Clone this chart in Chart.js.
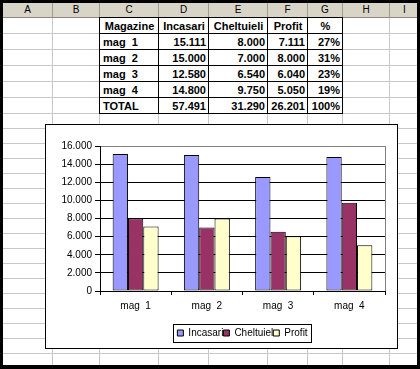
<!DOCTYPE html>
<html>
<head>
<meta charset="utf-8">
<script src="https://cdn.jsdelivr.net/npm/chart.js@4/dist/chart.umd.min.js"></script>
<style>
body { margin: 0; width: 420px; height: 369px; background: #000; overflow: hidden; position: relative; font-family: Arial, "Liberation Sans", sans-serif; }
#sheet { position: absolute; left: 3px; top: 3px; width: 414px; height: 362px; background: #fff; overflow: hidden; }
.c { position: absolute; box-sizing: border-box; border-right: 1px solid #c8c8c8; border-bottom: 1px solid #c8c8c8; }
.h { background: #d8d4c8; border-right: 1px solid #a09c90; border-bottom: 1px solid #8c8880; font-size: 10px; line-height: 13px; text-align: center; color: #000; }
.t { position: absolute; box-sizing: border-box; border: 1px solid #000; font-weight: bold; font-size: 11px; line-height: 15px; padding: 1px 2px 0 3px; white-space: pre; overflow: hidden; color: #000; }
#box { position: absolute; left: 45px; top: 124px; width: 353px; height: 225px; box-sizing: border-box; border: 1px solid #000; background: #fff; }
#box canvas { position: absolute; left: 0; top: 0; }
</style>
</head>
<body>
<div id="sheet"></div>
<div id="box"><canvas id="chart" width="351" height="223"></canvas></div>
<script>
// Data
const categories = ['mag  1', 'mag  2', 'mag  3', 'mag  4'];
const incasari = [15111, 15000, 12580, 14800];
const cheltuieli = [8000, 7000, 6540, 9750];
const profit = [7111, 8000, 6040, 5050];
const procent = ['27%', '31%', '23%', '19%'];
const headers = ['Magazine', 'Incasari', 'Cheltuieli', 'Profit', '%'];
const columns = ['A', 'B', 'C', 'D', 'E', 'F', 'G', 'H', 'I'];

function fmt(n) {
    return String(n).replace(/\B(?=(\d{3})+(?!\d))/g, '.');
}
const sum = a => a.reduce((s, v) => s + v, 0);

// Sheet grid (page coords, sheet starts at 3,3)
const xs = [3, 53, 100, 159, 209, 268, 308, 343, 390, 420];
const ys = [3, 18, 34, 50, 66, 82, 98, 114];
while (ys[ys.length - 1] < 369) ys.push(ys[ys.length - 1] + 15);

const sheet = document.getElementById('sheet');
function cell(cls, x, y, w, h, text, align) {
    const d = document.createElement('div');
    d.className = cls;
    d.style.left = (x - 3) + 'px';
    d.style.top = (y - 3) + 'px';
    d.style.width = w + 'px';
    d.style.height = h + 'px';
    if (text !== undefined) d.textContent = text;
    if (align) d.style.textAlign = align;
    sheet.appendChild(d);
    return d;
}

for (let i = 0; i < xs.length - 1; i++) {
    cell('c h', xs[i], ys[0], xs[i + 1] - xs[i], ys[1] - ys[0], columns[i]);
    for (let j = 1; j < ys.length - 1; j++) {
        cell('c', xs[i], ys[j], xs[i + 1] - xs[i], ys[j + 1] - ys[j]);
    }
}

// Table C..G
const rows = [headers];
categories.forEach((c, k) => rows.push([c, fmt(incasari[k]), fmt(cheltuieli[k]), fmt(profit[k]), procent[k]]));
rows.push(['TOTAL', fmt(sum(incasari)), fmt(sum(cheltuieli)), fmt(sum(profit)), '100%']);
rows.forEach((r, j) => {
    r.forEach((txt, k) => {
        const i = k + 2, y = j + 1;
        const align = j === 0 ? 'center' : (k === 0 ? 'left' : 'right');
        cell('t', xs[i] - 1, ys[y] - 1, xs[i + 1] - xs[i] + 1, ys[y + 1] - ys[y] + 1, txt, align);
    });
});

// Plot frame + legend border
const frame = {
    id: 'frame',
    afterDraw(chart) {
        const { ctx, chartArea: a, legend } = chart;
        ctx.save();
        ctx.lineWidth = 1;
        ctx.strokeStyle = '#808080';
        ctx.beginPath();
        ctx.moveTo(Math.round(a.right) + 0.5, a.top);
        ctx.lineTo(Math.round(a.right) + 0.5, a.bottom);
        ctx.stroke();
        const hb = legend.legendHitBoxes;
        const last = hb[hb.length - 1];
        const l = Math.round(hb[0].left - 4), r = Math.round(last.left + last.width + 3);
        const t = Math.round(hb[0].top - 4), b = Math.round(hb[0].top + hb[0].height + 4);
        ctx.strokeStyle = '#000';
        ctx.strokeRect(l + 0.5, t + 0.5, r - l, b - t);
        ctx.restore();
    }
};

const font = { family: 'Arial, "Liberation Sans", sans-serif', size: 10 };

new Chart(document.getElementById('chart'), {
    type: 'bar',
    data: {
        labels: categories,
        datasets: [
            { label: 'Incasari', data: incasari, backgroundColor: '#9999ff' },
            { label: 'Cheltuieli', data: cheltuieli, backgroundColor: '#993366' },
            { label: 'Profit', data: profit, backgroundColor: '#ffffcc' }
        ]
    },
    options: {
        responsive: false,
        animation: false,
        layout: { padding: { left: 14, right: 12, top: 21, bottom: 0 } },
        datasets: {
            bar: {
                borderColor: '#000',
                borderWidth: 1,
                borderSkipped: false,
                categoryPercentage: 0.645,
                barPercentage: 1
            }
        },
        plugins: {
            legend: {
                position: 'bottom',
                fullSize: false,
                labels: {
                    font: font,
                    color: '#000',
                    boxWidth: 6,
                    boxHeight: 6,
                    padding: 0,
                    generateLabels: c => Chart.defaults.plugins.legend.labels.generateLabels(c)
                        .map(l => Object.assign(l, { text: l.text.slice(0, 9) }))
                }
            },
            tooltip: { enabled: false }
        },
        scales: {
            x: {
                afterFit: s => { s.height = 37; },
                border: { color: '#000' },
                grid: { drawOnChartArea: false, color: '#000', tickLength: 4, offset: true },
                ticks: { font: font, color: '#000', padding: 5, maxRotation: 0 }
            },
            y: {
                min: 0,
                max: 16000,
                afterFit: s => { s.width = 40; },
                border: { color: '#000' },
                grid: {
                    color: c => (c.tick && c.tick.value === 16000) ? '#808080' : '#000',
                    tickColor: '#000',
                    tickLength: 5
                },
                ticks: { stepSize: 2000, font: font, color: '#000', padding: 3, callback: v => fmt(v) }
            }
        }
    },
    plugins: [frame]
});
</script>
</body>
</html>
